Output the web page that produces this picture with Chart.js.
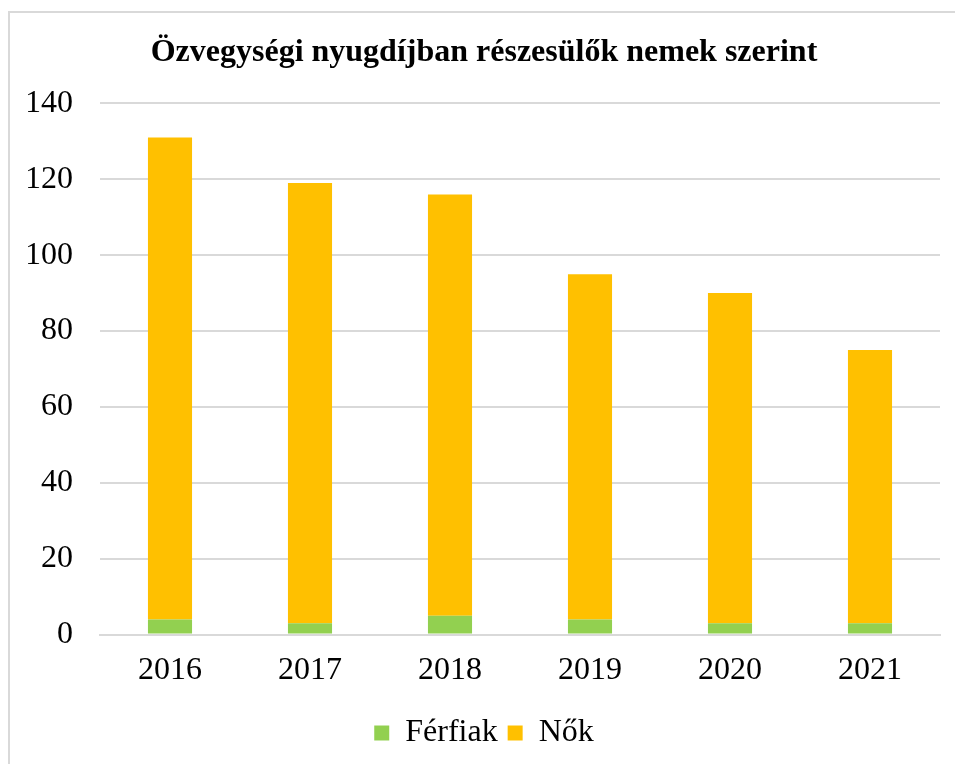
<!DOCTYPE html>
<html>
<head>
<meta charset="utf-8">
<script src="https://cdn.jsdelivr.net/npm/chart.js@4/dist/chart.umd.min.js"></script>
<style>
  html, body { margin: 0; padding: 0; background: #fff; }
  #wrap { position: relative; width: 955px; height: 764px; overflow: hidden; }
  #frame { position: absolute; left: 8px; top: 11px; width: 1000px; height: 800px;
           border-top: 2px solid #d9d9d9; border-left: 2px solid #d9d9d9; }
  canvas { position: absolute; left: 0; top: 0; }
</style>
</head>
<body>
<div id="wrap">
  <div id="frame"></div>
  <canvas id="chart" width="955" height="764"></canvas>
</div>
<script>
// Chart data
const years = ['2016', '2017', '2018', '2019', '2020', '2021'];
const ferfiak = [4, 3, 5, 4, 3, 3];
const nok = [127, 116, 111, 91, 87, 72];
const yTicks = [0, 20, 40, 60, 80, 100, 120, 140];

const serif = '"Liberation Serif", "Times New Roman", serif';

const ctx = document.getElementById('chart').getContext('2d');
const chart = new Chart(ctx, {
    type: 'bar',
    data: {
        labels: years,
        datasets: [
            { label: 'Férfiak', data: ferfiak, backgroundColor: '#92D050', borderWidth: 0 },
            { label: 'Nők', data: nok, backgroundColor: '#FFC000', borderWidth: 0 }
        ]
    },
    options: {
        responsive: false,
        animation: false,
        // left padding nudges the title/legend centre to the right, like the original
        layout: { padding: { left: 28, right: 15, top: 0, bottom: 5 } },
        datasets: { bar: { categoryPercentage: 1, barPercentage: 0.315 } },
        plugins: {
            tooltip: { enabled: false },
            title: {
                display: true,
                text: 'Özvegységi nyugdíjban részesülők nemek szerint',
                color: '#000',
                font: { family: serif, size: 32, weight: 'bold' },
                padding: { top: 34, bottom: 31 }
            },
            legend: {
                position: 'bottom',
                labels: {
                    color: '#000',
                    font: { family: serif, size: 32 },
                    boxWidth: 15,
                    boxHeight: 15,
                    padding: 10
                }
            }
        },
        scales: {
            x: {
                stacked: true,
                grid: { display: false, drawTicks: false },
                border: { display: true, color: '#d9d9d9', width: 2 },
                ticks: { color: '#000', font: { family: serif, size: 32 }, padding: 17 }
            },
            y: {
                stacked: true,
                min: 0,
                max: 140,
                afterFit: (scale) => { scale.width = 72; },
                afterBuildTicks: (scale) => { scale.ticks = yTicks.map(v => ({ value: v })); },
                grid: { color: '#d9d9d9', lineWidth: 2, drawTicks: false },
                border: { display: false },
                ticks: { color: '#000', font: { family: serif, size: 32 }, padding: 27 }
            }
        }
    }
});
</script>
</body>
</html>
